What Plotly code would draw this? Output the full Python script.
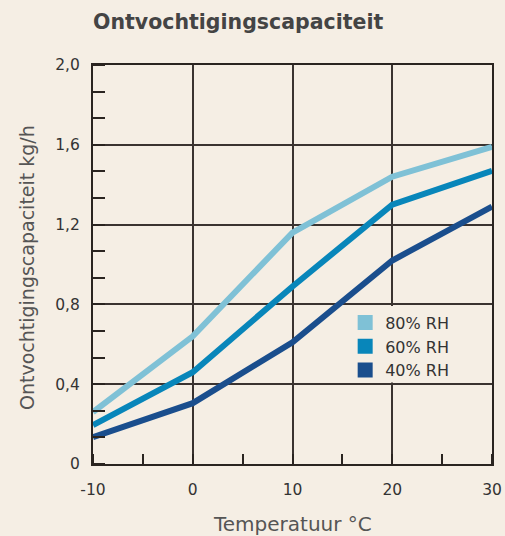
import plotly.graph_objects as go

temps = [-10, 0, 10, 20, 30]
rh80 = [0.26, 0.64, 1.16, 1.44, 1.59]
rh60 = [0.195, 0.46, 0.89, 1.30, 1.47]
rh40 = [0.135, 0.305, 0.61, 1.02, 1.29]
series_names = ["80% RH", "60% RH", "40% RH"]
colors = ["#7FC1D6", "#0886BA", "#1A4E8D"]
y_ticks = [0, 0.4, 0.8, 1.2, 1.6, 2.0]
y_tick_labels = ["0", "0,4", "0,8", "1,2", "1,6", "2,0"]
x_ticks = [-10, 0, 10, 20, 30]
x_tick_labels = ["-10", "0", "10", "20", "30"]

bg = "#F5EEE4"
FONT = "DejaVu Sans"
fig = go.Figure()
for name, vals, c in zip(series_names, [rh80, rh60, rh40], colors):
    fig.add_trace(go.Scatter(x=temps, y=vals, mode="lines", line=dict(color=c, width=6),
                             showlegend=False, hoverinfo="skip"))
for name, c in zip(series_names, colors):
    fig.add_trace(go.Scatter(x=[None], y=[None], mode="markers", name=name,
                             marker=dict(symbol="square", size=15, color=c)))

# background patch behind the legend (hides the vertical gridline there)
fig.add_shape(type="rect", xref="x", yref="y", x0=16, x1=30, y0=0.408, y1=0.792,
              fillcolor=bg, line=dict(width=0), layer="between")

fig.update_layout(
    width=505, height=536, paper_bgcolor=bg, plot_bgcolor=bg,
    margin=dict(l=93, r=13, t=65, b=72, autoexpand=False),
    font=dict(family=FONT, color="#333"),
    title=dict(text="<b>Ontvochtigingscapaciteit</b>", x=93/505, xanchor="left",
               y=1 - 22/536, yanchor="middle", font=dict(size=20.5, color="#444", family=FONT)),
    legend=dict(x=0.632, y=0.397, xanchor="left", yanchor="top", bgcolor="rgba(0,0,0,0)",
                borderwidth=0,
                font=dict(size=16, color="#333", family=FONT), itemwidth=30, tracegroupgap=0),
    showlegend=True,
    annotations=[
        dict(text="Ontvochtigingscapaciteit kg/h", xref="paper", yref="paper",
             x=(27 - 93) / 399, y=(464 - 268) / 399, textangle=-90, showarrow=False,
             xanchor="center", yanchor="middle", font=dict(size=19, color="#555", family=FONT)),
        dict(text="Temperatuur °C", xref="paper", yref="paper",
             x=0.5, y=(464 - 524) / 399, showarrow=False,
             xanchor="center", yanchor="middle", font=dict(size=20, color="#555", family=FONT)),
    ],
)
fig.update_xaxes(range=[-10, 30], tickvals=x_ticks, ticktext=x_tick_labels, showgrid=True, gridcolor="#3a3330", gridwidth=1.5,
                 showline=True, linecolor="#2a2420", linewidth=2, mirror=True, zeroline=False,
                 ticks="", tickfont=dict(size=15.5, color="#333"), ticklabelstandoff=10, automargin=False,
                 minor=dict(dtick=5, tick0=-10, ticks="inside", ticklen=10, tickcolor="#2a2420", tickwidth=1.5, showgrid=False))
fig.update_yaxes(range=[0, 2.0], tickvals=y_ticks, ticktext=y_tick_labels, showgrid=True, gridcolor="#3a3330", gridwidth=1.5,
                 showline=True, linecolor="#2a2420", linewidth=2, mirror=True, zeroline=False,
                 ticks="", tickfont=dict(size=15.5, color="#333"), ticklabelstandoff=8, automargin=False,
                 minor=dict(dtick=0.4/3, tick0=0, ticks="inside", ticklen=12, tickcolor="#2a2420", tickwidth=1.5, showgrid=False))
fig.write_html("out.html", config={"displayModeBar": False},
               post_script="document.body.style.margin='0';document.body.style.overflow='hidden';")
